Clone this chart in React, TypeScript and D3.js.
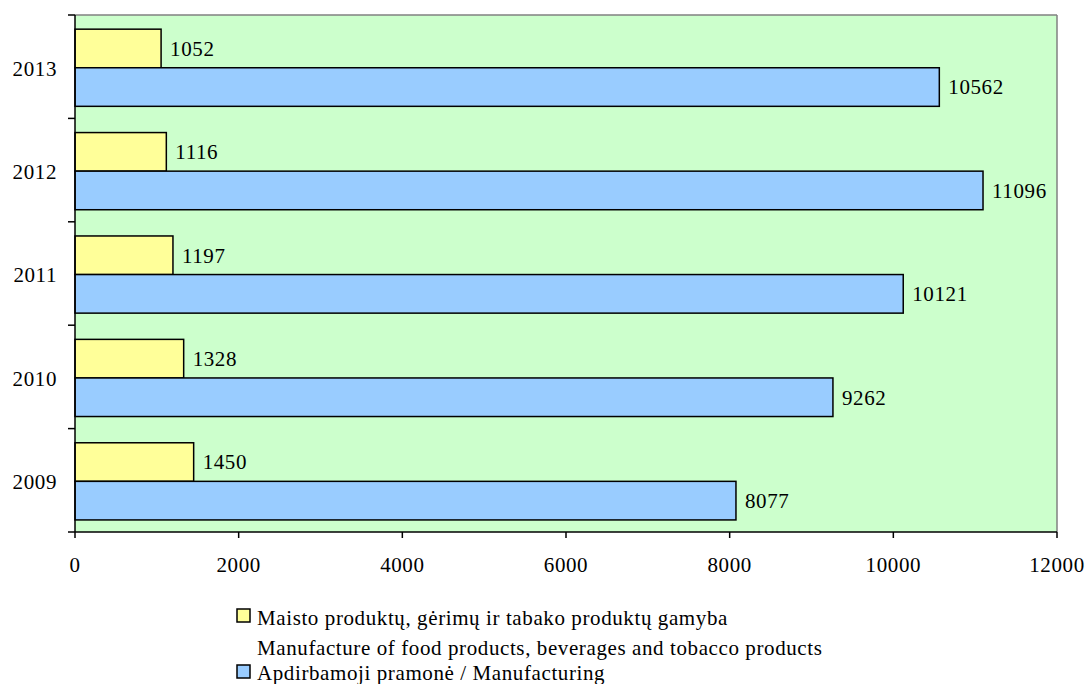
import React from "react";
import * as d3 from "d3";

const years = ["2013", "2012", "2011", "2010", "2009"];
const food = [1052, 1116, 1197, 1328, 1450];
const manufacturing = [10562, 11096, 10121, 9262, 8077];
const xTicks = [0, 2000, 4000, 6000, 8000, 10000, 12000];
const seriesNames = ["food", "manufacturing"];
const legendFood1 = "Maisto produktų, gėrimų ir tabako produktų gamyba";
const legendFood2 = "Manufacture of food products, beverages and tobacco products";
const legendManuf = "Apdirbamoji pramonė / Manufacturing";

const W = 1089;
const H = 684;
const left = 75, right = 1057, top = 15, bottom = 532;
const FONT = "'Liberation Serif', 'Times New Roman', serif";
const FS = 21;
const LS = 0.6;
const YELLOW = "#FFFF99";
const BLUE = "#99CCFF";

export default function App() {
  const x = d3.scaleLinear().domain([0, 12000]).range([left, right]);
  const y = d3.scaleBand().domain(years).range([top, bottom]).paddingInner(0).paddingOuter(0);
  const inner = d3
    .scaleBand()
    .domain(seriesNames)
    .range([0, y.bandwidth()])
    .paddingOuter(0.34)
    .paddingInner(0)
    .align(0.54);
  const bh = inner.bandwidth();
  const boundaries = years.map((yr) => y(yr)!).concat([bottom]);
  const textProps = { fontSize: FS, letterSpacing: LS, fill: "#000" };

  return (
    <svg width={W} height={H} style={{ position: "absolute", left: 0, top: 0 }} fontFamily={FONT}>
      <rect x={left} y={top} width={right - left} height={bottom - top} fill="#CCFFCC" />
      <line x1={left} x2={right} y1={top} y2={top} stroke="#808080" strokeWidth={1.5} />
      <line x1={right} x2={right} y1={top} y2={bottom} stroke="#808080" strokeWidth={1.5} />
      {years.map((yr, i) => {
        const y0 = y(yr)!;
        const yf = y0 + inner("food")!;
        const ym = y0 + inner("manufacturing")!;
        return (
          <g key={yr}>
            <rect x={x(0)} y={yf} width={x(food[i]) - x(0)} height={bh} fill={YELLOW} stroke="#000" strokeWidth={1.5} />
            <rect x={x(0)} y={ym} width={x(manufacturing[i]) - x(0)} height={bh} fill={BLUE} stroke="#000" strokeWidth={1.5} />
            <text x={x(food[i]) + 9} y={yf + bh / 2} dy="0.35em" {...textProps}>{food[i]}</text>
            <text x={x(manufacturing[i]) + 9} y={ym + bh / 2} dy="0.35em" {...textProps}>{manufacturing[i]}</text>
            <text x={57} y={y0 + y.bandwidth() / 2} dy="0.42em" textAnchor="end" {...textProps}>{yr}</text>
          </g>
        );
      })}
      <line x1={left} x2={left} y1={top} y2={bottom} stroke="#000" strokeWidth={1.5} />
      <line x1={left} x2={right} y1={bottom} y2={bottom} stroke="#000" strokeWidth={1.5} />
      {boundaries.map((b, i) => (
        <line key={i} x1={left - 7} x2={left} y1={b} y2={b} stroke="#000" strokeWidth={1.5} />
      ))}
      {xTicks.map((t) => (
        <g key={t}>
          <line x1={x(t)} x2={x(t)} y1={bottom} y2={bottom + 6} stroke="#000" strokeWidth={1.5} />
          <text x={x(t)} y={572} textAnchor="middle" {...textProps}>{t}</text>
        </g>
      ))}
      <rect x={237} y={609} width={13} height={13} fill={YELLOW} stroke="#000" strokeWidth={1.5} />
      <text x={257} y={625} {...textProps}>{legendFood1}</text>
      <text x={257} y={655} {...textProps}>{legendFood2}</text>
      <rect x={237} y={665} width={13} height={13} fill={BLUE} stroke="#000" strokeWidth={1.5} />
      <text x={257} y={680} {...textProps}>{legendManuf}</text>
    </svg>
  );
}
